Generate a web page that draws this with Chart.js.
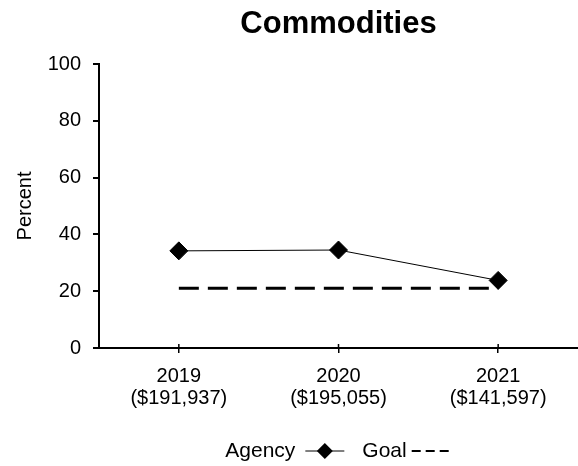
<!DOCTYPE html>
<html lang="en">
<head>
  <meta charset="utf-8" />
  <title>Commodities</title>
  <script src="https://cdn.jsdelivr.net/npm/chart.js"></script>
  <style>
    html, body { margin: 0; background: #fff; }
    #wrap { width: 578px; height: 466px; }
  </style>
</head>
<body>
  <div id="wrap"><canvas id="chart" width="578" height="466"></canvas></div>
  <script>
    const years = ['2019', '2020', '2021'];
    const dollars = ['($191,937)', '($195,055)', '($141,597)'];
    const agency = [34.2, 34.5, 23.8];
    const goal = [21, 21, 21];
    const yTicks = [0, 20, 40, 60, 80, 100];

    const FONT = "'Liberation Sans', Arial, sans-serif";

    // title + legend drawn over the chart area centre, like the original
    const extras = {
      id: 'extras',
      afterDraw(chart) {
        const { ctx, chartArea } = chart;
        const cx = (chartArea.left + chartArea.right) / 2;
        ctx.save();
        ctx.fillStyle = '#000';
        ctx.font = 'bold 31px ' + FONT;
        ctx.textAlign = 'center';
        ctx.textBaseline = 'alphabetic';
        ctx.fillText('Commodities', cx, 33);

        // small tick stubs crossing into the plot on the x axis
        const xs = chart.scales.x;
        ctx.strokeStyle = '#000';
        ctx.lineWidth = 1.5;
        years.forEach((_, i) => {
          const px = xs.getPixelForTick(i);
          ctx.beginPath();
          ctx.moveTo(px, chartArea.bottom);
          ctx.lineTo(px, chartArea.bottom - 4);
          ctx.stroke();
        });

        // legend
        ctx.font = '21px ' + FONT;
        ctx.textAlign = 'left';
        ctx.textBaseline = 'middle';
        const ly = 451;
        const wA = ctx.measureText('Agency').width;
        const wG = ctx.measureText('Goal').width;
        const total = wA + 10 + 39 + 18 + wG + 5 + 40;
        let x = cx - total / 2;
        ctx.fillText('Agency', x, ly);
        x += wA + 10;
        ctx.lineWidth = 1;
        ctx.beginPath();
        ctx.moveTo(x, ly); ctx.lineTo(x + 39, ly); ctx.stroke();
        const dx = x + 19.5;
        ctx.beginPath();
        ctx.moveTo(dx, ly - 8); ctx.lineTo(dx + 8, ly); ctx.lineTo(dx, ly + 8); ctx.lineTo(dx - 8, ly);
        ctx.closePath(); ctx.fill();
        x += 39 + 18;
        ctx.fillText('Goal', x, ly);
        x += wG + 5;
        ctx.lineWidth = 2;
        for (let k = 0; k < 3; k++) {
          ctx.beginPath();
          ctx.moveTo(x + k * 14, ly); ctx.lineTo(x + k * 14 + 9, ly); ctx.stroke();
        }
        ctx.restore();
      }
    };

    new Chart(document.getElementById('chart'), {
      type: 'line',
      data: {
        labels: years.map((y, i) => [y, dollars[i]]),
        datasets: [
          {
            label: 'Agency',
            data: agency,
            borderColor: '#000',
            backgroundColor: '#000',
            borderWidth: 1,
            pointStyle: 'rectRot',
            pointRadius: 9,
            pointHoverRadius: 9
          },
          {
            label: 'Goal',
            data: goal,
            borderColor: '#000',
            borderWidth: 3,
            borderDash: [20, 9],
            pointRadius: 0
          }
        ]
      },
      options: {
        responsive: false,
        animation: false,
        layout: { autoPadding: false, padding: { top: 64, right: -8, bottom: 0, left: 0 } },
        plugins: { legend: { display: false }, title: { display: false }, tooltip: { enabled: false } },
        scales: {
          x: {
            offset: true,
            grid: { drawOnChartArea: false, offset: false, tickLength: 5, color: '#000', lineWidth: 1.5 },
            border: { color: '#000', width: 2 },
            ticks: { color: '#000', font: { family: FONT, size: 20, lineHeight: 1.1 }, padding: 12, maxRotation: 0 },
            afterFit: s => { s.height = 118; s.paddingLeft = 0; s.paddingRight = 0; }
          },
          y: {
            min: 0, max: 100,
            afterBuildTicks: s => { s.ticks = yTicks.map(v => ({ value: v })); },
            grid: { drawOnChartArea: false, tickLength: 6, color: '#000', lineWidth: 2 },
            border: { color: '#000', width: 2 },
            ticks: { color: '#000', font: { family: FONT, size: 20 }, padding: 12 },
            title: { display: true, text: 'Percent', color: '#000', font: { family: FONT, size: 20 }, padding: { top: 13, bottom: 0 } },
            afterFit: s => { s.width = 99; }
          }
        }
      },
      plugins: [extras]
    });
  </script>
</body>
</html>
